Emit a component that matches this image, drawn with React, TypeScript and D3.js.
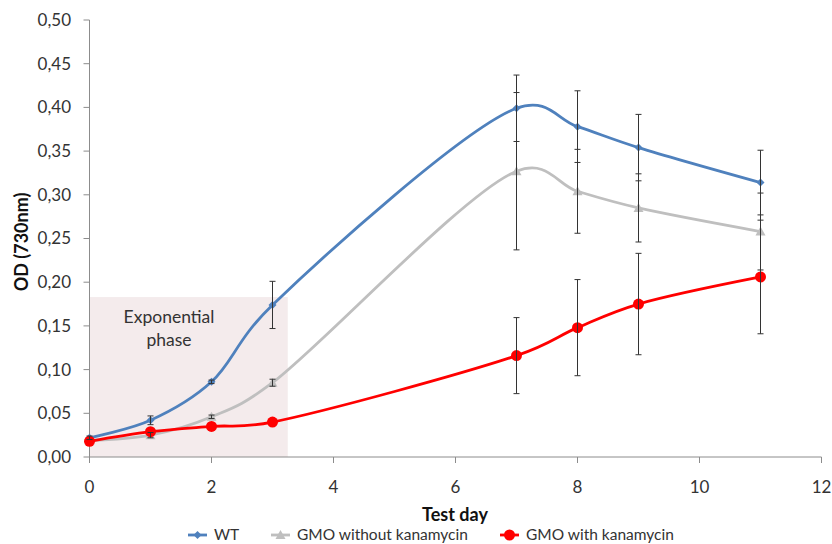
import React from "react";
import * as d3 from "d3";

const days = [0, 1, 2, 3, 7, 8, 9, 11];
const wtValues = [0.022, 0.042, 0.086, 0.174, 0.399, 0.378, 0.354, 0.314];
const wtErrors = [0.002, 0.005, 0.002, 0.027, 0.038, 0.041, 0.038, 0.037];
const gmoWithoutValues = [0.019, 0.025, 0.046, 0.085, 0.327, 0.304, 0.285, 0.258];
const gmoWithoutErrors = [0.001, 0.003, 0.002, 0.004, 0.09, 0.048, 0.039, 0.044];
const gmoWithValues = [0.018, 0.029, 0.035, 0.040, 0.116, 0.148, 0.175, 0.206];
const gmoWithErrors = [0.0, 0.0, 0.0, 0.0, 0.0435, 0.055, 0.058, 0.065];
const xTicks = [0, 2, 4, 6, 8, 10, 12];
const yTicks = [0, 0.05, 0.1, 0.15, 0.2, 0.25, 0.3, 0.35, 0.4, 0.45, 0.5];
const phaseRange = [0, 3.25];
const phaseTop = 0.183;

const series = [
  { name: "WT", values: wtValues, errors: wtErrors, color: "#4f81bd", marker: "diamond" },
  { name: "GMO without kanamycin", values: gmoWithoutValues, errors: gmoWithoutErrors, color: "#bfbfbf", marker: "triangle" },
  { name: "GMO with kanamycin", values: gmoWithValues, errors: gmoWithErrors, color: "#ff0000", marker: "circle" },
];

const W = 832, H = 544;
const x = d3.scaleLinear().domain([0, 12]).range([89.5, 821.5]);
const y = d3.scaleLinear().domain([0, 0.5]).range([457, 20]);
const font = "Lato, 'Open Sans', sans-serif";

function Marker({ type, cx, cy, color }: { type: string; cx: number; cy: number; color: string }) {
  if (type === "diamond") {
    const s = 4;
    return <path d={`M${cx},${cy - s}L${cx + s},${cy}L${cx},${cy + s}L${cx - s},${cy}Z`} fill={color} />;
  }
  if (type === "triangle") {
    const s = 5;
    return <path d={`M${cx},${cy - s}L${cx + s},${cy + s * 0.8}L${cx - s},${cy + s * 0.8}Z`} fill={color} />;
  }
  return <circle cx={cx} cy={cy} r={5.5} fill={color} />;
}

export default function App() {
  const line = d3
    .line<[number, number]>()
    .x((d) => x(d[0]))
    .y((d) => y(d[1]))
    .curve(d3.curveCatmullRom.alpha(0.3));

  return (
    <svg width={W} height={H} style={{ position: "absolute", left: 0, top: 0, background: "#fff" }} fontFamily={font}>
      <rect
        x={x(phaseRange[0])}
        y={y(phaseTop)}
        width={x(phaseRange[1]) - x(phaseRange[0])}
        height={y(0) - y(phaseTop)}
        fill="#f4ebec"
      />
      <text x={169} y={323} textAnchor="middle" fontSize={17.5} fill="#333">Exponential</text>
      <text x={169} y={346} textAnchor="middle" fontSize={17.5} fill="#333">phase</text>

      {/* axes */}
      <line x1={x(0)} x2={x(0)} y1={y(0.5)} y2={y(0)} stroke="#8c8c8c" strokeWidth={1} />
      <line x1={x(0)} x2={x(12)} y1={y(0)} y2={y(0)} stroke="#8c8c8c" strokeWidth={1} />
      {yTicks.map((t) => (
        <g key={"y" + t}>
          <line x1={x(0) - 6} x2={x(0)} y1={y(t)} y2={y(t)} stroke="#8c8c8c" />
          <text x={71} y={y(t)} dy="0.35em" textAnchor="end" fontSize={17} fill="#333">
            {t.toFixed(2).replace(".", ",")}
          </text>
        </g>
      ))}
      {xTicks.map((t) => (
        <g key={"x" + t}>
          <line x1={x(t)} x2={x(t)} y1={y(0)} y2={y(0) + 6} stroke="#8c8c8c" />
          <text x={x(t)} y={487} dy="0.35em" textAnchor="middle" fontSize={17} fill="#333">
            {t}
          </text>
        </g>
      ))}
      <text x={455} y={515} dy="0.35em" textAnchor="middle" fontSize={18} fontWeight="bold" fill="#111">Test day</text>
      <text transform={`translate(22,242) rotate(-90)`} dy="0.35em" textAnchor="middle" fontSize={18} fontWeight="bold" fill="#111">
        OD (730nm)
      </text>

      {/* lines */}
      {series.map((s) => (
        <path
          key={"l" + s.name}
          d={line(days.map((d, i) => [d, s.values[i]] as [number, number])) || ""}
          fill="none"
          stroke={s.color}
          strokeWidth={2.8}
        />
      ))}
      {/* markers */}
      {series.map((s) =>
        days.map((d, i) => <Marker key={s.name + d} type={s.marker} cx={x(d)} cy={y(s.values[i])} color={s.color} />)
      )}
      {/* error bars */}
      {series.map((s) =>
        days.map((d, i) =>
          s.errors[i] > 0.001 ? (
            <g key={"e" + s.name + d} stroke="#333" strokeWidth={1}>
              <line x1={x(d)} x2={x(d)} y1={y(s.values[i] + s.errors[i])} y2={y(s.values[i] - s.errors[i])} />
              <line x1={x(d) - 3} x2={x(d) + 3} y1={y(s.values[i] + s.errors[i])} y2={y(s.values[i] + s.errors[i])} />
              <line x1={x(d) - 3} x2={x(d) + 3} y1={y(s.values[i] - s.errors[i])} y2={y(s.values[i] - s.errors[i])} />
            </g>
          ) : null
        )
      )}

      {/* legend */}
      {series.map((s, i) => {
        const lx = [188, 271, 500][i];
        const ly = 535;
        return (
          <g key={"lg" + s.name}>
            <line x1={lx} x2={lx + 19} y1={ly} y2={ly} stroke={s.color} strokeWidth={2.8} />
            <Marker type={s.marker} cx={lx + 9.5} cy={ly} color={s.color} />
            <text x={lx + 26} y={ly} dy="0.35em" fontSize={15.5} fill="#333">{s.name}</text>
          </g>
        );
      })}
    </svg>
  );
}
